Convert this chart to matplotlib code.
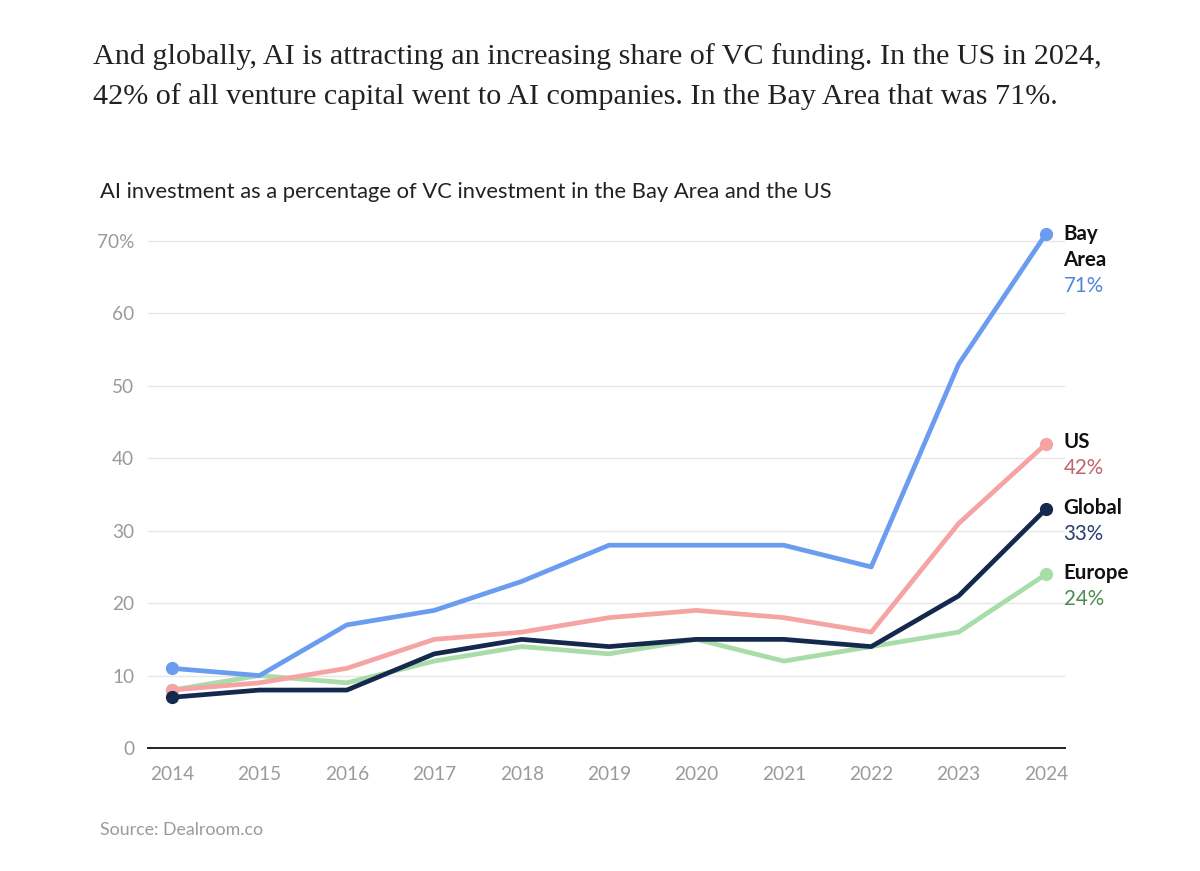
import matplotlib.pyplot as plt

years = list(range(2014, 2025))
bay_area = [11, 10, 17, 19, 23, 28, 28, 28, 25, 53, 71]
us = [8, 9, 11, 15, 16, 18, 19, 18, 16, 31, 42]
global_ = [7, 8, 8, 13, 15, 14, 15, 15, 14, 21, 33]
europe = [8, 10, 9, 12, 14, 13, 15, 12, 14, 16, 24]

yticks = [0, 10, 20, 30, 40, 50, 60, 70]
ytick_labels = ['0', '10', '20', '30', '40', '50', '60', '70%']

series = [
    ('Europe', europe, '#a8dca8'),
    ('US', us, '#f5a3a3'),
    ('Bay Area', bay_area, '#6a9df0'),
    ('Global', global_, '#14294d'),
]

fig = plt.figure(figsize=(12, 8.71), dpi=100)
ax = fig.add_axes([148/1200, 1 - 748/871, (1065-148)/1200, (748-228)/871])

for name, vals, col in series:
    ax.plot(years, vals, color=col, lw=3.4, solid_capstyle='round', solid_joinstyle='round')
    ax.plot([years[0], years[-1]], [vals[0], vals[-1]], 'o', color=col, ms=8.5)

ax.set_xlim(2013.725, 2024.217)
ax.set_ylim(0, 71.8)
ax.set_yticks(yticks)
ax.set_yticklabels(ytick_labels)
ax.set_xticks(years)
ax.grid(axis='y', color='#e6e6e6', lw=1)
ax.set_axisbelow(True)
for s in ['top', 'right', 'left']:
    ax.spines[s].set_visible(False)
ax.spines['bottom'].set_color('#222222')
ax.spines['bottom'].set_linewidth(1.4)
ax.tick_params(axis='both', length=0, labelcolor='#9a9a9a', labelsize=13.7)
ax.tick_params(axis='y', pad=10)
ax.tick_params(axis='x', pad=13)
for lbl in ax.get_yticklabels() + ax.get_xticklabels():
    lbl.set_family('Lato')

# end labels
lab = dict(fontsize=14.8, family='Lato', ha='left', va='center', clip_on=False)
xl = 2024.2
ax.text(xl, 71, 'Bay', fontweight='bold', color='#111111', **lab)
ax.text(xl, 67.4, 'Area', fontweight='bold', color='#111111', **lab)
ax.text(xl, 63.8, '71%', color='#4f86d9', **lab)
ax.text(xl, 42.2, 'US', fontweight='bold', color='#111111', **lab)
ax.text(xl, 38.6, '42%', color='#c0646b', **lab)
ax.text(xl, 33.2, 'Global', fontweight='bold', color='#111111', **lab)
ax.text(xl, 29.6, '33%', color='#2b3f6b', **lab)
ax.text(xl, 24.2, 'Europe', fontweight='bold', color='#111111', **lab)
ax.text(xl, 20.6, '24%', color='#4e8a4e', **lab)

fig.text(93/1200, 1 - 57/871,
         'And globally, AI is attracting an increasing share of VC funding. In the US in 2024,',
         family='Liberation Serif', fontsize=21.7, color='#222222', va='center')
fig.text(93/1200, 1 - 97/871,
         '42% of all venture capital went to AI companies. In the Bay Area that was 71%.',
         family='Liberation Serif', fontsize=21.7, color='#222222', va='center')
fig.text(100/1200, 1 - 192/871,
         'AI investment as a percentage of VC investment in the Bay Area and the US',
         family='Lato', fontsize=15.8, color='#222222', va='center')
fig.text(100/1200, 1 - 830/871, 'Source: Dealroom.co',
         family='Lato', fontsize=12.8, color='#9a9a9a', va='center')

fig.savefig('out.png', dpi=100, facecolor='white')
